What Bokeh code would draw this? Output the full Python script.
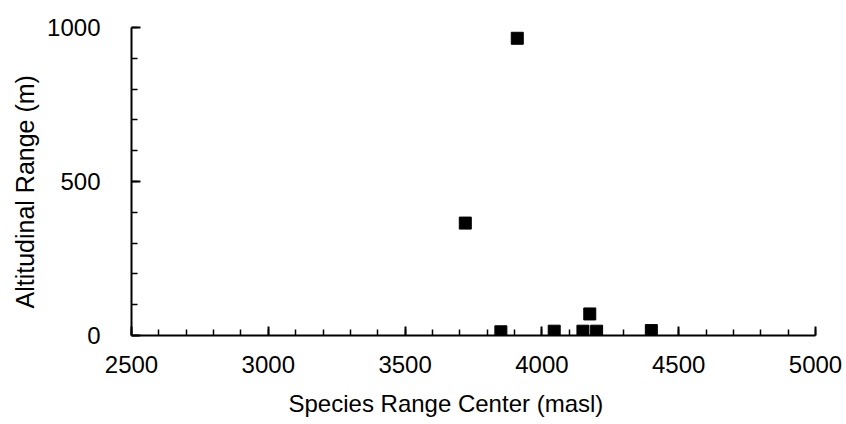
from bokeh.plotting import figure
from bokeh.models import FixedTicker, Range1d, Title
from bokeh.embed import file_html
from bokeh.resources import INLINE

# Data
range_center = [3720, 3910, 3850, 4045, 4150, 4175, 4200, 4400]
altitudinal_range = [365, 965, 12, 14, 14, 70, 14, 16]

x_major = [2500, 3000, 3500, 4000, 4500, 5000]
x_minor = list(range(2500, 5001, 100))
y_major = [0, 500, 1000]
y_minor = list(range(0, 1001, 100))

x_title = "Species Range Center (masl)"
y_title = "Altitudinal Range (m)"

FONT = "Liberation Sans"

p = figure(width=846, height=424, output_backend="svg", toolbar_location=None,
           x_range=Range1d(2500, 5000), y_range=Range1d(0, 1000),
           min_border_left=131, min_border_right=31, min_border_top=27, min_border_bottom=89)
p.frame_width = 684
p.frame_height = 308

p.scatter(range_center, altitudinal_range, marker="square", size=12,
          fill_color="black", line_color="black")

p.xgrid.visible = False
p.ygrid.visible = False
p.outline_line_color = None

p.xaxis.ticker = FixedTicker(ticks=x_major, minor_ticks=x_minor)
p.yaxis.ticker = FixedTicker(ticks=y_major, minor_ticks=y_minor)

for ax in (p.xaxis, p.yaxis):
    ax.axis_line_color = "black"
    ax.axis_line_width = 2
    ax.major_tick_line_color = "black"
    ax.minor_tick_line_color = "black"
    ax.major_tick_line_width = 2
    ax.minor_tick_line_width = 1.5
    ax.major_tick_in = 9
    ax.major_tick_out = 0
    ax.minor_tick_in = 6
    ax.minor_tick_out = 0
    ax.major_label_text_font = FONT
    ax.major_label_text_font_size = "24px"
    ax.major_label_text_color = "black"

p.xaxis.major_label_standoff = 20
p.yaxis.major_label_standoff = 31

xt = Title(text=x_title, align="left", offset=157, standoff=24,
           text_font=FONT, text_font_size="24px", text_font_style="normal",
           text_color="black")
p.add_layout(xt, "below")

yt = Title(text=y_title, align="left", offset=27, standoff=12,
           text_font=FONT, text_font_size="25px", text_font_style="normal",
           text_color="black")
p.add_layout(yt, "left")

open("out.html", "w").write(file_html(p, INLINE))
